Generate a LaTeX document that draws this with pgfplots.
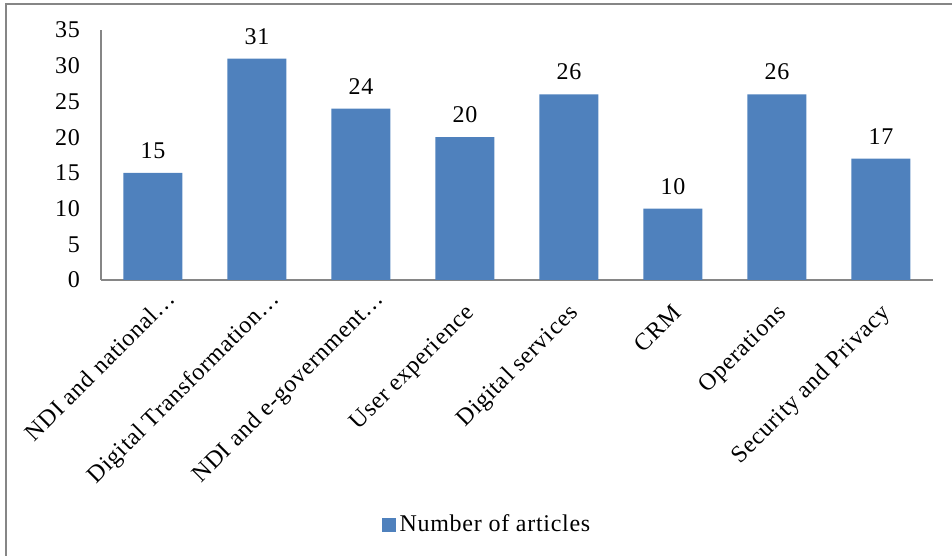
\documentclass[border=0pt]{standalone}
\usepackage{pgfplots}
\pgfplotsset{compat=1.18}
\usepackage{fontspec}
\setmainfont{Liberation Serif}[LetterSpace=3]
\definecolor{barblue}{HTML}{4F81BD}
\definecolor{axgray}{HTML}{868686}
\begin{document}
\begin{tikzpicture}
\useasboundingbox (0,0) rectangle (476pt,278pt);
\draw[axgray, line width=1pt] (3pt,0) -- (3pt,276pt) -- (476pt,276pt);
\begin{axis}[
  at={(50.5pt,138pt)}, anchor=south west,
  scale only axis, width=416pt, height=125pt,
  ymin=0, ymax=35, xmin=-0.5, xmax=7.5,
  ybar, bar width=29.5pt,
  axis x line*=bottom, axis y line*=left,
  axis line style={axgray, line width=0.75pt},
  ytick={0,5,...,35}, xtick={0,...,7},
  xticklabels={NDI and national…\hspace*{-10pt},Digital Transformation…\hspace*{-10pt},NDI and e-government…\hspace*{-10pt},User experience,Digital services,CRM,Operations,Security and Privacy},
  major tick length=0pt,
  tick label style={font=\fontsize{12}{14}\selectfont},
  /pgf/number format/assume math mode=true,
  yticklabel style={xshift=-7pt},
  xticklabel style={xshift=5pt, yshift=-17pt, rotate=45, anchor=base east, inner sep=0pt},
  nodes near coords,
  nodes near coords style={font=\fontsize{12}{14}\selectfont, yshift=3.5pt},
  legend style={at={(0.4651,-0.98)}, anchor=center, draw=none, font=\fontsize{12}{14}\selectfont},
  legend image code/.code={\fill[barblue] (0pt,-3.5pt) rectangle (7pt,3.5pt);},
]
\addplot[fill=barblue, draw=none] coordinates {(0,15) (1,31) (2,24) (3,20) (4,26) (5,10) (6,26) (7,17)};
\legend{Number of articles}
\end{axis}
\end{tikzpicture}
\end{document}
